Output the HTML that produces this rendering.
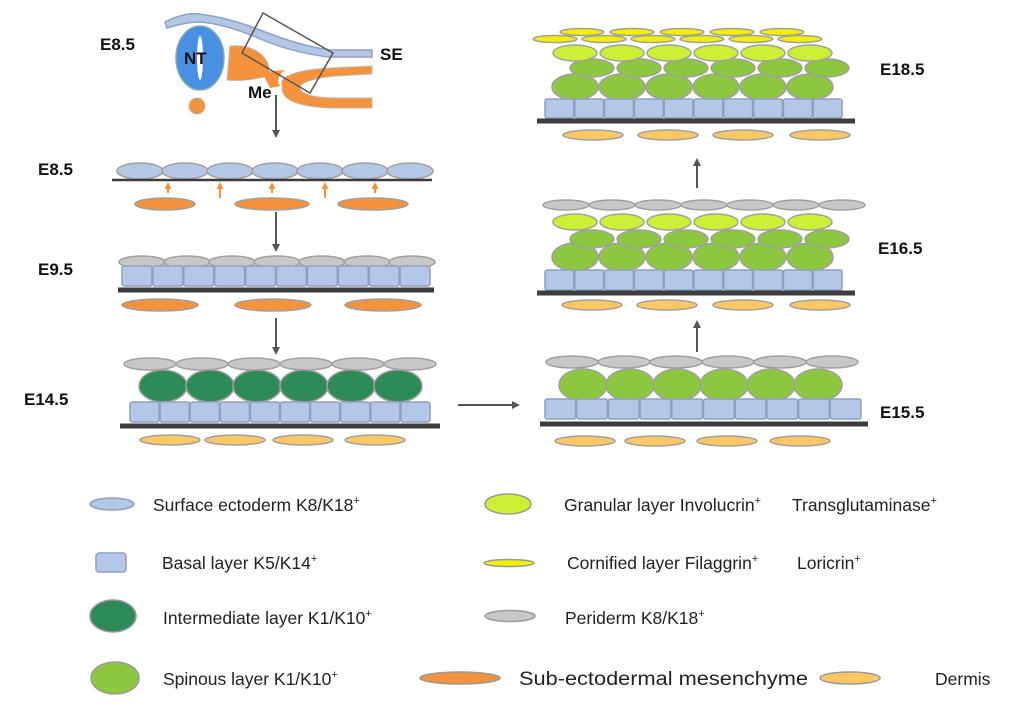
<!DOCTYPE html>
<html><head><meta charset="utf-8"><style>
html,body{margin:0;padding:0;background:#fff;width:1024px;height:717px;overflow:hidden}
svg{display:block;font-family:"Liberation Sans",Arial,sans-serif}
.lb{font-weight:bold;font-size:17px;fill:#111}
.lg{font-size:17.5px;fill:#222}
</style></head><body>
<svg id="s" width="1024" height="717" viewBox="0 0 1024 717" xmlns="http://www.w3.org/2000/svg">
<defs>
<marker id="ah" markerWidth="8" markerHeight="8" refX="6" refY="4" orient="auto" markerUnits="userSpaceOnUse"><path d="M0,0 L8,4 L0,8 z" fill="#555"/></marker>
<marker id="oa" markerWidth="7" markerHeight="7" refX="5" refY="3.5" orient="auto" markerUnits="userSpaceOnUse"><path d="M0,0 L7,3.5 L0,7 z" fill="#f5923e"/></marker>
</defs>
<path d="M165,22 Q185,12 200,14 Q230,18 260,30 Q300,46 330,50 L372,50 L372,57 L328,57 Q290,52 258,38 Q225,24 200,22 Q185,22 167,28 Z" fill="#b4c7e7" stroke="#8ea3c4" stroke-width="1.5"/>
<ellipse cx="200" cy="58" rx="24" ry="32" fill="#4a90e2" stroke="#8aa" stroke-width="1.5"/>
<ellipse cx="200" cy="58" rx="3" ry="22" fill="#fff"/>
<circle cx="197" cy="106" r="8" fill="#f5923e" stroke="#bbb"/>
<path d="M230,46 Q250,44 262,55 Q272,65 268,76 Q245,82 227,80 Z" fill="#f5923e" stroke="#bbb"/>
<path d="M262,72 L285,70 Q275,78 280,86 L270,88 Z" fill="#f5923e"/>
<path d="M282,80 Q292,70 330,68 L372,66 L372,74 L335,76 Q300,80 300,88 Q302,98 340,98 L372,98 L372,108 L330,108 Q282,106 282,88 Z" fill="#f5923e" stroke="#bbb"/>
<polygon points="263,13 333,53 310,93 242,53" fill="none" stroke="#555" stroke-width="1.5"/>
<text class="lb" x="100" y="50">E8.5</text>
<text class="lb" x="184" y="64" font-size="15">NT</text>
<text class="lb" x="380" y="60">SE</text>
<text class="lb" x="248" y="98" font-size="15">Me</text>
<g stroke="#555" stroke-width="2">
<line x1="276" y1="95" x2="276" y2="136" marker-end="url(#ah)"/>
<line x1="276" y1="212" x2="276" y2="250" marker-end="url(#ah)"/>
<line x1="276" y1="318" x2="276" y2="353" marker-end="url(#ah)"/>
<line x1="458" y1="405" x2="518" y2="405" marker-end="url(#ah)"/>
<line x1="697" y1="352" x2="697" y2="322" marker-end="url(#ah)"/>
<line x1="697" y1="188" x2="697" y2="160" marker-end="url(#ah)"/>
</g>
<g class="lb"><text x="38" y="175">E8.5</text><text x="38" y="275">E9.5</text><text x="24" y="405">E14.5</text>
<text x="880" y="75">E18.5</text><text x="878" y="254">E16.5</text><text x="880" y="418">E15.5</text></g>
<g id="dyn"></g>
<ellipse cx="112" cy="504" rx="22" ry="6" fill="#b4c7e7" stroke="#8f9fbf" stroke-width="1.5"/>
<rect x="96" y="553" width="30" height="19" rx="3" fill="#b4c7e7" stroke="#8f9fbf" stroke-width="1.5"/>
<ellipse cx="113" cy="616" rx="23" ry="16" fill="#2e8b57" stroke="#999" stroke-width="1.5"/>
<ellipse cx="115" cy="678" rx="24" ry="16" fill="#8dc63f" stroke="#999" stroke-width="1.5"/>
<ellipse cx="508" cy="504" rx="23" ry="10" fill="#ccf033" stroke="#999" stroke-width="1.5"/>
<ellipse cx="509" cy="563" rx="25" ry="3.5" fill="#f0f000" stroke="#999" stroke-width="1.5"/>
<ellipse cx="510" cy="616" rx="25" ry="5.5" fill="#c8c8c8" stroke="#999" stroke-width="1.5"/>
<ellipse cx="460" cy="678" rx="40" ry="6" fill="#f5923e" stroke="#999" stroke-width="1.5"/>
<ellipse cx="850" cy="678" rx="30" ry="6" fill="#ffc864" stroke="#999" stroke-width="1.5"/>
<g class="lg">
<text x="153" y="511">Surface ectoderm K8/K18<tspan font-size="11" dy="-7">+</tspan></text>
<text x="162" y="569">Basal layer K5/K14<tspan font-size="11" dy="-7">+</tspan></text>
<text x="163" y="624">Intermediate layer K1/K10<tspan font-size="11" dy="-7">+</tspan></text>
<text x="163" y="685">Spinous layer K1/K10<tspan font-size="11" dy="-7">+</tspan></text>
<text x="564" y="511">Granular layer Involucrin<tspan font-size="11" dy="-7">+</tspan></text>
<text x="792" y="511">Transglutaminase<tspan font-size="11" dy="-7">+</tspan></text>
<text x="567" y="569">Cornified layer Filaggrin<tspan font-size="11" dy="-7">+</tspan></text>
<text x="797" y="569">Loricrin<tspan font-size="11" dy="-7">+</tspan></text>
<text x="565" y="624">Periderm K8/K18<tspan font-size="11" dy="-7">+</tspan></text>
<text x="519" y="685" font-size="19" textLength="289" lengthAdjust="spacingAndGlyphs">Sub-ectodermal mesenchyme</text>
<text x="935" y="685">Dermis</text>
</g>
</svg>
<script>
var g=document.getElementById('dyn'),h='';
function E(cx,cy,rx,ry,f){h+='<ellipse cx="'+cx+'" cy="'+cy+'" rx="'+rx+'" ry="'+ry+'" fill="'+f+'" stroke="#a0a0a0" stroke-width="1.5"/>';}
function R(x0,x1,y,hh,n){var w=(x1-x0)/n;for(var i=0;i<n;i++)h+='<rect x="'+(x0+i*w)+'" y="'+y+'" width="'+(w-1)+'" height="'+hh+'" rx="2" fill="#b4c7e7" stroke="#8f9fbf" stroke-width="1.5"/>';}
function L(x0,x1,y,t){h+='<rect x="'+x0+'" y="'+(y-t/2)+'" width="'+(x1-x0)+'" height="'+t+'" fill="#3c3c3c"/>';}
var B='#b4c7e7',G='#c8c8c8',O='#f5923e',D='#ffc864',DG='#2e8b57',SP='#8dc63f',GR='#ccf033',Y='#f0f000';
for(var i=0;i<7;i++)E(140+i*45,171,23,8,B);
L(112,432,180,2.5);
[165,272,373].forEach(function(c,i){E(c,204,[30,37,35][i],6,O);});
[168,220,272,325,375].forEach(function(x,i){var t=(i%2)?198:193;h+='<line x1="'+x+'" y1="'+t+'" x2="'+x+'" y2="184" stroke="#f5923e" stroke-width="2" marker-end="url(#oa)"/>';});
for(i=0;i<7;i++)E(142+i*45,262,23,6,G);
R(122,431,266,20,10);L(118,434,290,5);
[160,273,383].forEach(function(c){E(c,305,38,6,O);});
for(i=0;i<6;i++)E(150+i*52,364,26,6,G);
for(i=0;i<6;i++)E(163+i*47,386,24,16,DG);
R(130,431,402,20,10);L(120,440,426,5);
[170,235,303,375].forEach(function(c){E(c,440,30,5,D);});
for(i=0;i<6;i++)E(572+i*52,362,26,6,G);
for(i=0;i<6;i++)E(583+i*47,385,24,16,SP);
R(545,862,399,20,10);L(540,868,424,5);
[585,655,727,800].forEach(function(c){E(c,441,30,5,D);});
for(i=0;i<7;i++)E(566+i*46,205,23,5,G);
for(i=0;i<6;i++)E(575+i*47,257,23,14,SP);
for(i=0;i<6;i++)E(592+i*47,239,22,9,SP);
for(i=0;i<6;i++)E(575+i*47,222,22,8,GR);
R(545,843,270,20,10);L(537,855,293,5);
[592,667,743,820].forEach(function(c){E(c,305,30,5,D);});
for(i=0;i<5;i++)E(582+i*50,32,22,3.5,Y);
for(i=0;i<6;i++)E(555+i*49,39,22,3.5,Y);
for(i=0;i<6;i++)E(575+i*47,87,23,13,SP);
for(i=0;i<6;i++)E(592+i*47,68,22,9,SP);
for(i=0;i<6;i++)E(575+i*47,53,22,8,GR);
R(545,843,99,19,10);L(537,855,121,5);
[593,668,743,820].forEach(function(c){E(c,135,30,5,D);});
g.innerHTML=h;
</script>
</body></html>
